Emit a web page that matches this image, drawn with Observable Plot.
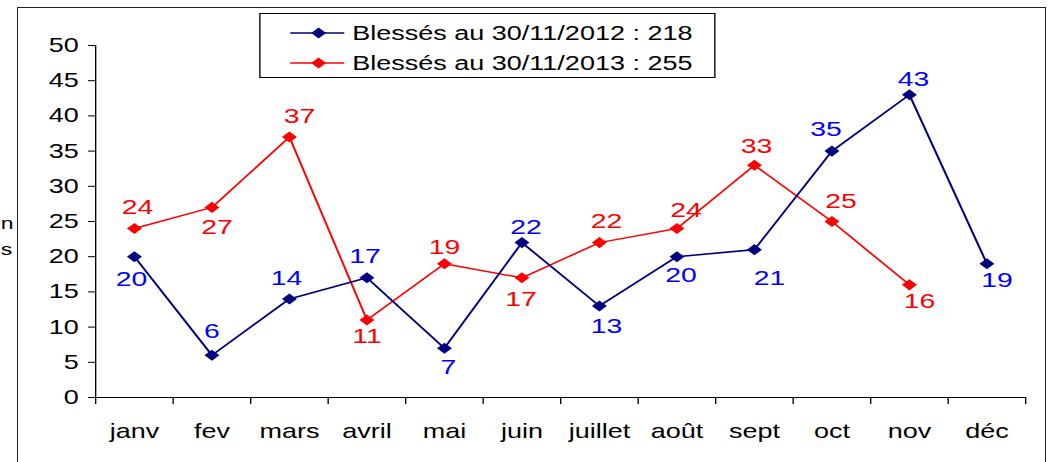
<!DOCTYPE html>
<html>
<head>
<meta charset="utf-8">
<script src="https://cdn.jsdelivr.net/npm/d3@7"></script>
<script src="https://cdn.jsdelivr.net/npm/@observablehq/plot@0.6"></script>
<style>
  html, body { margin: 0; padding: 0; background: #fff; }
  #page { position: relative; width: 1049px; height: 462px; overflow: hidden; background: #fff; font-family: "Liberation Sans", Arial, sans-serif; }
  #stretch { position: absolute; left: 0; top: 0; width: 777px; height: 462px; transform-origin: 0 0; }
  #frame { position: absolute; left: 17px; top: 7px; width: 1029px; height: 520px; border: 1.5px solid #222; box-sizing: border-box; pointer-events: none; }
  #legend { position: absolute; left: 191.9px; top: 13px; width: 338.5px; height: 65px; border: 1px solid #000; box-sizing: border-box; background: #fff; }
  .lrow { position: absolute; left: 0; height: 24px; display: flex; align-items: center; }
  .lrow svg { position: absolute; left: 21px; top: 6px; }
  .lrow span { position: absolute; left: 68px; font-size: 20px; white-space: nowrap; color: #000; line-height: 24px; top: 0; }
  .side { position: absolute; font-size: 17px; color: #000; line-height: 20px; }
</style>
</head>
<body>
<div id="page">
  <div id="stretch"></div>
  <div id="frame"></div>
</div>
<script>
// ---- data ----
const months = ["janv", "fev", "mars", "avril", "mai", "juin", "juillet", "août", "sept", "oct", "nov", "déc"];
const blesses2012 = [20, 6, 14, 17, 7, 22, 13, 20, 21, 35, 43, 19];
const blesses2013 = [24, 27, 37, 11, 19, 17, 22, 24, 33, 25, 16];
const yTicks = [0, 5, 10, 15, 20, 25, 30, 35, 40, 45, 50];
const seriesNames = ["Blessés au 30/11/2012 : 218", "Blessés au 30/11/2013 : 255"];
// label offsets (reference pixels) for the value labels
const labelDx2012 = [-3, 0, -3, -2, 4, 4, 7, 4, 15, -6, 4, 10];
const labelDy2012 = [23, -24, -21, -22, 19, -15, 20, 19, 29, -22, -16, 17];
const labelDx2013 = [3, 5, 10, 0, 0, -1, 7, 9, 2, 9, 10];
const labelDy2013 = [-21, 20, -21, 16, -16, 21, -21, -18, -19, -20, 16];

const S = 1049 / 777; // horizontal stretch of the original picture
const FONT = "'Liberation Sans', Arial, sans-serif";
const navy = "#000080", blue = "#0000ff", red = "#ff0000";

const d2012 = blesses2012.map((v, i) => ({i, v, dx: labelDx2012[i], dy: labelDy2012[i]}));
const d2013 = blesses2013.map((v, i) => ({i, v, dx: labelDx2013[i], dy: labelDy2013[i]}));

const labelMarks = (data, color) => data.map(d =>
  Plot.text([d], {x: d => d.i + 0.5, y: "v", text: d => String(d.v), fill: color,
    fontSize: 21, dx: d.dx / S, dy: d.dy}));

const chart = Plot.plot({
  width: 777,
  height: 462,
  marginLeft: 95 / S,
  marginRight: 777 - 1025 / S,
  marginTop: 45,
  marginBottom: 65,
  x: {domain: [0, 12], axis: null},
  y: {domain: [0, 50], axis: null},
  style: {fontFamily: FONT, fontSize: "20px", color: "#000", background: "transparent", overflow: "visible"},
  marks: [
    Plot.ruleY([0], {stroke: "#000", strokeWidth: 1.2}),
    Plot.ruleX([0], {y1: 0, y2: 50, stroke: "#000", strokeWidth: 1}),
    Plot.axisY(yTicks, {tickSize: 7 / S, tickPadding: 7.4, fontSize: 20, label: null, strokeWidth: 1}),
    Plot.axisX(d3.range(13), {tickSize: 7, tickFormat: () => "", label: null}),
    Plot.axisX(d3.range(12).map(i => i + 0.5), {tickSize: 0, tickPadding: 26, fontSize: 20, label: null,
      tickFormat: d => months[Math.floor(d)]}),
    Plot.line(d2013, {x: d => d.i + 0.5, y: "v", stroke: red, strokeWidth: 1.5}),
    Plot.line(d2012, {x: d => d.i + 0.5, y: "v", stroke: navy, strokeWidth: 1.6}),
    Plot.dot(d2013, {x: d => d.i + 0.5, y: "v", symbol: "diamond2", r: 5, fill: red, stroke: "none"}),
    Plot.dot(d2012, {x: d => d.i + 0.5, y: "v", symbol: "diamond2", r: 5, fill: navy, stroke: "none"}),
    ...labelMarks(d2013, red),
    ...labelMarks(d2012, blue)
  ]
});

const stretch = document.getElementById("stretch");
stretch.style.transform = `scaleX(${S})`;
stretch.appendChild(chart);

// legend
const legend = document.createElement("div");
legend.id = "legend";
[[navy, seriesNames[0], 7], [red, seriesNames[1], 37]].forEach(([c, name, top]) => {
  const row = document.createElement("div");
  row.className = "lrow";
  row.style.top = top + "px";
  row.style.width = "100%";
  row.innerHTML = `<svg width="42" height="12"><line x1="1" y1="6" x2="41" y2="6" stroke="${c}" stroke-width="1.6"/>` +
    `<path d="M22,0.5 L27.5,6 L22,11.5 L16.5,6 Z" fill="${c}"/></svg><span>${name}</span>`;
  legend.appendChild(row);
});
stretch.appendChild(legend);

// fragment of the axis title visible at the left edge
[["n", 214], ["s", 240]].forEach(([t, top]) => {
  const s = document.createElement("div");
  s.className = "side";
  s.textContent = t;
  s.style.left = "0.5px";
  s.style.top = top + "px";
  stretch.appendChild(s);
});
</script>
</body>
</html>
